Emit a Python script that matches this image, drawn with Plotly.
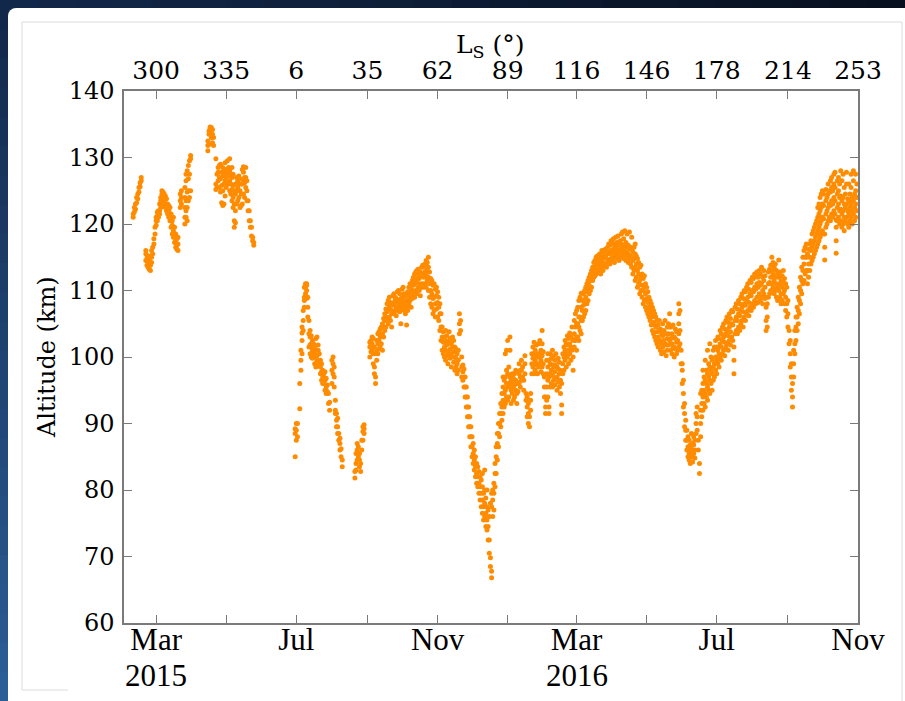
import plotly.graph_objects as go

# ---------------- data ----------------
X_START, X_END = "2015-02-01", "2016-11-01"
Y_MIN, Y_MAX = 60, 140

ls_tick_dates = ["2015-03-01", "2015-05-01", "2015-07-01", "2015-09-01", "2015-11-01",
                 "2016-01-01", "2016-03-01", "2016-05-01", "2016-07-01", "2016-09-01",
                 "2016-11-01"]
ls_labels = ["300", "335", "6", "35", "62", "89", "116", "146", "178", "214", "253"]
month_dates = ["2015-03-01", "2015-07-01", "2015-11-01", "2016-03-01", "2016-07-01",
               "2016-11-01"]
month_labels = ["Mar", "Jul", "Nov", "Mar", "Jul", "Nov"]
minor_month_dates = ["2015-05-01", "2015-09-01", "2016-01-01", "2016-05-01", "2016-09-01"]
year_dates = ["2015-03-01", "2016-03-01"]
year_labels = ["2015", "2016"]

# altitude (km) observed on each day
early_2015 = [
    ("2015-02-09", [121.0, 121.5]), ("2015-02-10", [121.8, 122.5]),
    ("2015-02-11", [122.2, 123.0]), ("2015-02-12", [123.2, 124.0]),
    ("2015-02-13", [123.8, 124.5]), ("2015-02-14", [124.8, 125.5]),
    ("2015-02-15", [125.6, 126.2]), ("2015-02-16", [126.5, 127.0]),
    ("2015-02-20", [114.5, 115.5, 116.0]), ("2015-02-21", [113.8, 114.8, 115.3]),
    ("2015-02-22", [113.5, 114.2, 115.0]), ("2015-02-23", [113.2, 114.0, 114.6]),
    ("2015-02-24", [113.0, 113.8, 115.2]), ("2015-02-25", [114.2, 115.0, 116.0]),
    ("2015-02-26", [115.5, 116.5]), ("2015-02-27", [117.0, 117.8]),
    ("2015-02-28", [118.5, 119.5]), ("2015-03-01", [119.8, 120.5, 121.0]),
    ("2015-03-02", [120.5, 121.2, 121.8]), ("2015-03-03", [121.0, 121.5, 122.0]),
    ("2015-03-04", [122.0, 123.0, 121.5]), ("2015-03-05", [122.5, 123.5, 124.0]),
    ("2015-03-06", [123.8, 124.5, 125.0]), ("2015-03-07", [124.0, 124.8, 123.2]),
    ("2015-03-08", [123.5, 124.5, 122.8]), ("2015-03-09", [122.5, 123.8, 124.2]),
    ("2015-03-10", [122.0, 123.0, 123.8]), ("2015-03-11", [121.5, 122.5, 123.0]),
    ("2015-03-12", [121.0, 122.0, 122.8]), ("2015-03-13", [120.5, 121.5, 122.5]),
    ("2015-03-14", [119.5, 120.8, 121.5]), ("2015-03-15", [118.5, 119.8, 120.5]),
    ("2015-03-16", [118.0, 119.0, 121.0]), ("2015-03-17", [117.2, 118.0, 119.5]),
    ("2015-03-18", [116.5, 117.5, 118.5]), ("2015-03-19", [116.2, 116.8, 117.8]),
    ("2015-03-20", [116.0, 117.0, 118.0]), ("2015-03-22", [122.5, 123.5, 124.5]),
    ("2015-03-23", [123.0, 124.0, 125.0]),
    ("2015-03-26", [120.0, 121.0, 122.5, 124.0, 125.5]),
    ("2015-03-27", [121.0, 122.0, 123.5, 126.5, 127.5]),
    ("2015-03-28", [120.5, 122.5, 124.8, 128.0]),
    ("2015-03-29", [123.5, 125.0, 126.8, 128.8]),
    ("2015-03-30", [124.0, 127.5, 129.5]), ("2015-03-31", [125.0, 129.8, 130.3]),
    ("2015-04-15", [131.0, 131.8, 132.5]), ("2015-04-16", [132.0, 133.5, 134.0]),
    ("2015-04-17", [133.8, 134.4, 134.6]), ("2015-04-18", [134.0, 134.5, 133.0]),
    ("2015-04-19", [133.5, 134.2, 132.2]), ("2015-04-20", [131.8, 133.0]),
    ("2015-04-22", [129.8, 126.0, 125.2]), ("2015-04-23", [127.5, 125.5]),
    ("2015-04-24", [126.5, 127.8, 128.5]), ("2015-04-25", [125.5, 127.0, 128.8]),
    ("2015-04-26", [124.8, 126.8, 129.0]), ("2015-04-27", [123.2, 125.8, 127.8]),
    ("2015-04-28", [122.8, 125.0, 127.2, 128.5]), ("2015-04-29", [123.0, 126.0, 128.0]),
    ("2015-04-30", [124.2, 126.5, 127.5, 129.2]), ("2015-05-01", [125.5, 127.0, 128.2]),
    ("2015-05-02", [126.2, 127.8, 129.5]), ("2015-05-03", [126.0, 127.2, 128.5]),
    ("2015-05-04", [125.0, 126.5, 128.0, 129.8]), ("2015-05-05", [124.5, 126.0, 127.5]),
    ("2015-05-06", [123.5, 125.2, 127.0, 128.5]), ("2015-05-07", [122.5, 124.0, 125.8, 127.5]),
    ("2015-05-08", [119.5, 120.5, 123.0, 125.0]), ("2015-05-09", [120.2, 122.0, 124.5, 126.0]),
    ("2015-05-10", [123.0, 125.0, 127.0]), ("2015-05-11", [123.5, 125.5, 126.5]),
    ("2015-05-12", [124.0, 126.0, 127.2]), ("2015-05-13", [122.5, 125.0, 126.8]),
    ("2015-05-14", [122.8, 124.5, 126.0]), ("2015-05-15", [123.0, 126.0, 128.2]),
    ("2015-05-16", [124.5, 126.5, 127.8, 128.6]), ("2015-05-17", [124.0, 126.2, 127.0]),
    ("2015-05-18", [125.5, 127.0, 128.5]), ("2015-05-19", [123.5, 125.0, 126.5]),
    ("2015-05-20", [122.0, 123.5]), ("2015-05-21", [120.5, 122.0]),
    ("2015-05-22", [119.5, 120.5]), ("2015-05-23", [118.2, 119.5]),
    ("2015-05-24", [117.5, 118.0]), ("2015-05-25", [116.8, 117.2]),
]

mid_2015 = [
    ("2015-06-30", [85.0, 88.5, 89.2]), ("2015-07-01", [87.5, 89.0, 90.0]),
    ("2015-07-02", [88.0, 90.0]), ("2015-07-04", [92.2, 96.0]),
    ("2015-07-05", [98.0, 99.5, 101.0]), ("2015-07-06", [100.5, 102.5, 103.6, 104.5]),
    ("2015-07-07", [104.0, 105.5, 107.0]), ("2015-07-08", [107.5, 108.5, 109.0, 110.5]),
    ("2015-07-09", [109.5, 110.5, 111.0]), ("2015-07-10", [110.8, 111.0, 110.0, 108.8]),
    ("2015-07-11", [109.0, 107.5, 106.0]), ("2015-07-12", [105.5, 103.5, 101.5]),
    ("2015-07-13", [100.5, 101.8, 103.0, 104.0]), ("2015-07-14", [100.0, 101.5, 102.0, 103.2]),
    ("2015-07-15", [99.8, 100.8, 101.2, 102.5]), ("2015-07-16", [100.2, 101.0, 102.0]),
    ("2015-07-17", [99.0, 100.5, 101.5]), ("2015-07-18", [98.5, 100.0, 101.0, 102.8]),
    ("2015-07-19", [99.5, 100.2, 103.0]), ("2015-07-20", [99.0, 101.0, 101.8]),
    ("2015-07-21", [98.8, 100.5]), ("2015-07-22", [97.5, 98.5, 99.5]),
    ("2015-07-23", [96.5, 97.8, 99.0]), ("2015-07-24", [96.0, 97.0, 98.0]),
    ("2015-07-25", [96.5, 97.5, 96.0]), ("2015-07-26", [95.0, 96.5, 97.8]),
    ("2015-07-27", [94.5, 95.5, 96.8]), ("2015-07-28", [94.8, 95.8]),
    ("2015-07-29", [93.0, 94.5]), ("2015-07-30", [92.0, 93.2]),
    ("2015-08-01", [96.0, 98.0, 99.5]), ("2015-08-02", [97.5, 99.0, 100.0]),
    ("2015-08-03", [95.5, 97.0, 98.5]), ("2015-08-04", [92.0, 93.5, 91.5]),
    ("2015-08-05", [90.5, 91.5, 89.5]), ("2015-08-06", [88.5, 89.5, 90.8]),
    ("2015-08-07", [87.5, 88.5]), ("2015-08-08", [86.0, 87.0, 87.8]),
    ("2015-08-09", [85.0, 86.2]), ("2015-08-10", [84.5, 83.5]),
    ("2015-08-21", [81.8, 82.8]), ("2015-08-22", [83.0, 84.0, 85.5]),
    ("2015-08-23", [84.5, 86.0, 87.0]), ("2015-08-24", [85.0, 86.5]),
    ("2015-08-25", [83.5, 84.5, 85.5]), ("2015-08-26", [82.8, 84.0]),
    ("2015-08-27", [86.0, 87.5]), ("2015-08-28", [87.5, 88.8, 89.5]),
    ("2015-08-29", [88.5, 89.8, 89.2]),
]

late_2015 = [
    ("2015-09-03", [100.0, 101.5, 102.2]), ("2015-09-04", [100.8, 101.8, 102.5]),
    ("2015-09-05", [101.0, 102.0, 103.0]), ("2015-09-06", [99.0, 100.5, 102.8]),
    ("2015-09-07", [97.5, 98.5, 101.5]), ("2015-09-08", [96.0, 97.0, 100.5]),
    ("2015-09-09", [99.5, 101.0, 102.5]), ("2015-09-10", [100.5, 102.0, 103.5]),
    ("2015-09-11", [101.2, 102.5, 103.8]), ("2015-09-12", [101.5, 103.0, 104.2]),
    ("2015-09-13", [102.0, 103.2, 104.5]), ("2015-09-14", [101.0, 103.5, 105.0]),
    ("2015-09-15", [103.0, 104.5, 105.8]), ("2015-09-16", [104.0, 105.5, 106.5]),
    ("2015-09-17", [104.5, 106.0, 107.2]), ("2015-09-18", [105.5, 106.8, 108.0]),
    ("2015-09-19", [105.0, 107.0, 108.5]), ("2015-09-20", [106.0, 107.5, 109.0]),
    ("2015-09-21", [105.5, 107.2, 108.2]), ("2015-09-22", [104.5, 106.5, 108.0]),
    ("2015-09-23", [106.8, 108.0, 109.2]), ("2015-09-24", [106.5, 107.8, 109.5]),
    ("2015-09-25", [107.0, 108.5, 109.0]), ("2015-09-26", [106.2, 107.5, 108.8]),
    ("2015-09-27", [107.0, 108.2, 109.8]), ("2015-09-28", [107.5, 108.5, 110.0]),
    ("2015-09-29", [106.8, 108.0, 109.5]), ("2015-09-30", [105.0, 107.5, 108.8]),
    ("2015-10-01", [107.2, 108.5, 110.2]), ("2015-10-02", [107.8, 109.0, 110.5]),
    ("2015-10-03", [107.0, 108.2, 109.5]), ("2015-10-04", [106.5, 108.0, 109.2]),
    ("2015-10-05", [104.8, 107.5, 108.5]), ("2015-10-06", [107.0, 108.5, 109.8]),
    ("2015-10-07", [108.0, 109.2, 110.5]), ("2015-10-08", [108.5, 109.8, 111.0]),
    ("2015-10-09", [107.5, 109.0, 110.2]), ("2015-10-10", [108.8, 110.0, 111.5]),
    ("2015-10-11", [109.5, 110.8, 112.0]), ("2015-10-12", [109.0, 111.0, 112.5]),
    ("2015-10-13", [110.0, 111.5, 112.8]), ("2015-10-14", [109.5, 111.2, 113.0]),
    ("2015-10-15", [110.5, 112.0, 113.2]), ("2015-10-16", [110.0, 111.8, 112.5]),
    ("2015-10-17", [109.2, 111.0, 112.8]), ("2015-10-18", [110.5, 112.2, 113.5]),
    ("2015-10-19", [111.0, 112.5, 113.8]), ("2015-10-20", [110.5, 112.0, 113.5]),
    ("2015-10-21", [111.0, 112.8, 114.0]), ("2015-10-22", [110.5, 112.5, 113.8, 114.5]),
    ("2015-10-23", [111.5, 113.0, 114.2]), ("2015-10-24", [110.0, 112.0, 113.5, 115.0]),
    ("2015-10-25", [109.0, 111.0, 112.8]), ("2015-10-26", [108.0, 110.0, 111.8]),
    ("2015-10-27", [107.5, 109.5, 111.5]), ("2015-10-28", [106.5, 108.8, 110.8]),
    ("2015-10-29", [107.0, 109.0, 111.0]), ("2015-10-30", [106.0, 108.0, 110.2]),
    ("2015-10-31", [107.2, 109.2, 110.5]), ("2015-11-01", [106.0, 108.2, 109.8]),
    ("2015-11-02", [105.5, 107.5, 109.0]), ("2015-11-03", [104.0, 106.5, 108.0]),
    ("2015-11-04", [102.5, 104.5, 106.5]), ("2015-11-05", [101.0, 103.0, 104.5]),
    ("2015-11-06", [100.5, 102.2, 103.8]), ("2015-11-07", [100.0, 101.5, 103.0]),
    ("2015-11-08", [99.5, 101.0, 102.5, 104.0]), ("2015-11-09", [100.2, 101.8, 103.2]),
    ("2015-11-10", [99.0, 100.8, 102.0]), ("2015-11-11", [100.5, 102.2, 103.8]),
    ("2015-11-12", [99.8, 101.2, 102.8]), ("2015-11-13", [98.5, 100.5, 102.0]),
    ("2015-11-14", [100.0, 101.5, 103.0]), ("2015-11-15", [99.2, 100.8, 102.5]),
    ("2015-11-16", [98.0, 100.0, 101.5]), ("2015-11-17", [98.5, 99.8, 101.2]),
    ("2015-11-18", [97.5, 99.0, 100.5]), ("2015-11-19", [98.0, 99.5, 101.0]),
    ("2015-11-20", [103.5, 105.0, 106.5]), ("2015-11-21", [104.0, 105.5]),
    ("2015-11-22", [97.0, 98.5, 100.0]), ("2015-11-23", [96.5, 97.8, 98.8]),
    ("2015-11-24", [95.5, 97.0, 98.2]), ("2015-11-25", [94.0, 95.5, 97.0]),
    ("2015-11-26", [92.5, 94.0, 95.5]), ("2015-11-27", [91.0, 92.5, 94.0]),
    ("2015-11-28", [89.5, 91.0, 92.5]), ("2015-11-29", [88.0, 89.5, 91.0]),
    ("2015-11-30", [86.5, 88.0, 89.5]), ("2015-12-01", [85.0, 86.5, 88.0]),
    ("2015-12-02", [84.0, 85.5, 87.0]), ("2015-12-03", [83.0, 84.5, 86.0]),
    ("2015-12-04", [82.0, 83.5, 85.0]), ("2015-12-05", [81.0, 82.5, 84.0]),
    ("2015-12-06", [80.5, 82.0, 83.5]), ("2015-12-07", [79.5, 81.0, 82.8]),
    ("2015-12-08", [78.5, 80.5, 82.0]), ("2015-12-09", [77.5, 79.5, 81.5]),
    ("2015-12-10", [76.5, 78.5, 80.5, 82.5]), ("2015-12-11", [75.5, 77.5, 79.5]),
    ("2015-12-12", [76.0, 78.0, 80.0, 83.0]), ("2015-12-13", [74.5, 76.5, 78.8]),
    ("2015-12-14", [74.0, 75.5, 77.5, 80.0]), ("2015-12-15", [72.5, 74.5, 77.0]),
    ("2015-12-16", [70.5, 72.5, 76.0]), ("2015-12-17", [68.5, 69.8, 78.0]),
    ("2015-12-18", [66.8, 67.8, 77.5, 79.5]), ("2015-12-19", [76.0, 78.5, 80.0]),
    ("2015-12-20", [77.0, 79.5, 81.0]), ("2015-12-21", [80.5, 82.5, 84.0]),
    ("2015-12-22", [82.5, 85.0, 86.5]), ("2015-12-23", [84.5, 87.0, 88.5]),
    ("2015-12-24", [86.5, 88.5, 90.0]), ("2015-12-25", [88.0, 90.0, 91.5]),
    ("2015-12-26", [89.5, 91.5, 93.0]), ("2015-12-27", [90.5, 92.5, 94.5]),
    ("2015-12-28", [91.5, 93.5, 95.5, 97.0]), ("2015-12-29", [92.5, 94.5, 96.5]),
    ("2015-12-30", [93.0, 95.0, 97.0, 100.5]), ("2015-12-31", [94.0, 96.0, 98.0, 101.0]),
    ("2016-01-01", [93.5, 95.5, 97.5, 102.5]), ("2016-01-02", [94.0, 96.0, 98.5]),
    ("2016-01-03", [95.5, 97.0, 101.0, 103.0]), ("2016-01-04", [93.0, 95.0, 96.5]),
    ("2016-01-05", [94.5, 96.0, 97.5]), ("2016-01-06", [93.5, 95.5, 96.8]),
    ("2016-01-07", [94.0, 95.8, 97.5]), ("2016-01-08", [95.0, 96.5, 98.0]),
    ("2016-01-09", [93.0, 94.5, 96.0]), ("2016-01-10", [94.8, 96.2, 97.8]),
    ("2016-01-11", [96.0, 97.5, 99.0]), ("2016-01-12", [95.5, 97.0, 98.0]),
    ("2016-01-13", [96.5, 98.0, 99.5]), ("2016-01-14", [97.0, 98.5]),
    ("2016-01-15", [95.0, 96.5]), ("2016-01-16", [97.5, 99.0, 100.2]),
    ("2016-01-17", [93.5, 94.5]), ("2016-01-18", [91.0, 92.5, 94.0]),
    ("2016-01-19", [90.0, 91.5, 93.0]), ("2016-01-20", [89.5, 91.0]),
    ("2016-01-21", [92.0, 93.5, 94.5]), ("2016-01-22", [97.5, 99.0, 100.5]),
    ("2016-01-23", [98.5, 99.8, 101.5]), ("2016-01-24", [97.5, 99.0, 100.5, 102.2]),
    ("2016-01-25", [98.0, 99.5, 101.0]), ("2016-01-26", [98.8, 100.2, 101.8]),
    ("2016-01-27", [97.5, 99.0, 100.5]), ("2016-01-28", [98.5, 100.0, 102.0]),
    ("2016-01-29", [99.0, 100.5, 102.5]), ("2016-01-30", [97.8, 99.5, 101.0]),
    ("2016-01-31", [98.5, 100.2, 102.0, 104.0]), ("2016-02-01", [97.5, 99.0, 100.8]),
    ("2016-02-02", [94.0, 95.5, 97.0]), ("2016-02-03", [91.5, 92.5, 94.0]),
    ("2016-02-04", [93.5, 95.5, 97.5, 99.5]),
]

year_2016 = [
    ("2016-02-05", [94.0, 96.5, 98.5, 100.5]), ("2016-02-06", [91.5, 92.5, 97.0, 99.5]),
    ("2016-02-07", [95.5, 97.5, 99.0, 100.5]), ("2016-02-08", [96.0, 98.0, 99.8]),
    ("2016-02-09", [95.5, 97.2, 98.8, 101.0]), ("2016-02-10", [96.5, 98.5, 100.2]),
    ("2016-02-11", [95.8, 97.8, 99.5]), ("2016-02-12", [96.8, 98.8, 100.5]),
    ("2016-02-13", [95.0, 97.0, 98.5]), ("2016-02-14", [96.2, 98.2, 99.8]),
    ("2016-02-15", [95.5, 97.5, 99.2]), ("2016-02-16", [94.5, 96.5, 98.0]),
    ("2016-02-17", [91.5, 92.8, 96.0]), ("2016-02-18", [97.5, 99.0, 100.5]),
    ("2016-02-19", [98.0, 100.0, 101.5]), ("2016-02-20", [99.5, 101.0, 102.5]),
    ("2016-02-21", [98.5, 100.5, 102.0]), ("2016-02-22", [100.0, 101.8, 103.2]),
    ("2016-02-23", [99.0, 101.0, 102.8]), ("2016-02-24", [100.5, 102.0, 103.6]),
    ("2016-02-25", [99.5, 101.5, 103.0]), ("2016-02-26", [101.0, 102.8, 104.5]),
    ("2016-02-27", [98.0, 100.0, 102.5]), ("2016-02-28", [101.5, 103.5, 105.5]),
    ("2016-02-29", [102.5, 104.5, 106.5]), ("2016-03-01", [101.0, 103.0, 105.0, 107.0]),
    ("2016-03-02", [103.0, 105.0, 107.5]), ("2016-03-03", [102.5, 104.5, 106.0, 108.5]),
    ("2016-03-04", [104.0, 106.0, 109.0]), ("2016-03-05", [103.5, 105.5, 107.5, 109.6]),
    ("2016-03-06", [105.5, 107.0, 108.5]), ("2016-03-07", [106.0, 107.8, 109.5]),
    ("2016-03-08", [106.5, 108.5, 110.0]), ("2016-03-09", [107.0, 109.0, 110.5]),
    ("2016-03-10", [108.0, 109.8, 111.0]), ("2016-03-11", [108.5, 110.2, 111.5]),
    ("2016-03-12", [109.5, 110.8, 112.0]), ("2016-03-13", [110.0, 111.5, 112.5]),
    ("2016-03-14", [110.5, 112.0, 113.0]), ("2016-03-15", [111.5, 112.5, 113.5]),
    ("2016-03-16", [112.0, 113.0, 114.2]), ("2016-03-17", [112.2, 113.5, 114.5]),
    ("2016-03-18", [112.5, 113.8, 115.0]), ("2016-03-19", [113.0, 114.0, 115.2]),
    ("2016-03-20", [112.8, 113.8, 114.8]), ("2016-03-21", [113.2, 114.5, 115.5]),
    ("2016-03-22", [112.5, 114.0, 115.0]), ("2016-03-23", [113.5, 114.8, 116.0]),
    ("2016-03-24", [113.0, 114.2, 115.5]), ("2016-03-25", [113.8, 115.0, 116.0]),
    ("2016-03-26", [114.0, 115.2, 116.2]), ("2016-03-27", [113.5, 114.8, 115.8]),
    ("2016-03-28", [114.2, 115.5, 116.5]), ("2016-03-29", [114.5, 115.8, 117.0]),
    ("2016-03-30", [114.0, 115.5, 116.8]), ("2016-03-31", [114.8, 116.0, 117.5]),
    ("2016-04-01", [114.5, 115.8, 117.2]), ("2016-04-02", [115.0, 116.2, 117.8]),
    ("2016-04-03", [114.2, 115.5, 116.8]), ("2016-04-04", [115.2, 116.5, 118.0]),
    ("2016-04-05", [114.8, 116.0, 117.2]), ("2016-04-06", [115.5, 116.8, 118.2]),
    ("2016-04-07", [114.5, 115.8, 117.0]), ("2016-04-08", [115.0, 116.2, 117.5]),
    ("2016-04-09", [115.8, 117.0, 118.5]), ("2016-04-10", [115.2, 116.5, 118.8]),
    ("2016-04-11", [114.8, 116.0, 117.8]), ("2016-04-12", [115.5, 116.8, 119.0]),
    ("2016-04-13", [114.5, 115.8, 117.2]), ("2016-04-14", [115.0, 116.5, 118.5]),
    ("2016-04-15", [114.2, 115.5, 116.8]), ("2016-04-16", [114.8, 116.2, 118.8]),
    ("2016-04-17", [114.0, 115.2, 116.5]), ("2016-04-18", [113.5, 115.0, 116.2, 118.0]),
    ("2016-04-19", [112.5, 114.5, 115.8]), ("2016-04-20", [113.0, 114.8, 116.5]),
    ("2016-04-21", [111.5, 113.5, 115.5, 117.0]), ("2016-04-22", [112.0, 114.0, 115.2]),
    ("2016-04-23", [110.5, 113.0, 114.8]), ("2016-04-24", [111.0, 112.5, 114.2]),
    ("2016-04-25", [109.5, 111.5, 113.5]), ("2016-04-26", [110.0, 112.0, 113.8]),
    ("2016-04-27", [109.0, 110.8, 112.5]), ("2016-04-28", [108.0, 110.0, 111.8]),
    ("2016-04-29", [108.5, 110.5, 112.2]), ("2016-04-30", [107.5, 109.5, 111.0]),
    ("2016-05-01", [107.0, 108.8, 110.5]), ("2016-05-02", [106.5, 108.2, 109.8]),
    ("2016-05-03", [106.0, 107.5, 109.0]), ("2016-05-04", [105.5, 107.0, 108.5]),
    ("2016-05-05", [104.8, 106.5, 108.0]), ("2016-05-06", [104.0, 106.0, 107.5]),
    ("2016-05-07", [103.5, 105.2, 107.0]), ("2016-05-08", [103.0, 104.8, 106.5]),
    ("2016-05-09", [102.5, 104.5, 106.0]), ("2016-05-10", [102.0, 103.8, 105.5]),
    ("2016-05-11", [101.5, 103.0, 104.8]), ("2016-05-12", [102.2, 104.0, 105.5]),
    ("2016-05-13", [101.0, 102.5, 104.2]), ("2016-05-14", [100.5, 102.0, 103.5]),
    ("2016-05-15", [101.5, 103.2, 105.0]), ("2016-05-16", [100.8, 102.5, 104.0]),
    ("2016-05-17", [102.0, 103.5, 105.5]), ("2016-05-18", [100.2, 101.8, 103.5]),
    ("2016-05-19", [101.0, 102.8, 104.5]), ("2016-05-20", [101.8, 103.5, 105.0]),
    ("2016-05-21", [102.5, 104.5, 106.5]), ("2016-05-22", [101.0, 102.8, 104.5]),
    ("2016-05-23", [100.5, 102.0, 103.5]), ("2016-05-24", [101.5, 103.0, 104.8]),
    ("2016-05-25", [100.0, 101.5, 103.0]), ("2016-05-26", [101.2, 102.8, 104.2]),
    ("2016-05-27", [100.5, 102.2, 103.8]), ("2016-05-28", [101.0, 102.5]),
    ("2016-05-29", [101.5, 103.5, 105.0, 106.5, 108.0]), ("2016-05-30", [102.0, 104.0, 107.0]),
    ("2016-05-31", [99.0, 101.0]), ("2016-06-01", [96.0, 98.0, 99.0]),
    ("2016-06-02", [92.5, 94.5, 96.5]), ("2016-06-03", [89.5, 91.5, 93.0]),
    ("2016-06-04", [87.5, 89.0, 90.5]), ("2016-06-05", [86.0, 87.5, 89.0]),
    ("2016-06-06", [85.0, 86.5, 88.0]), ("2016-06-07", [84.5, 85.5, 87.5]),
    ("2016-06-08", [84.0, 85.8, 86.8]), ("2016-06-09", [85.0, 86.2, 88.5]),
    ("2016-06-10", [84.2, 85.0, 87.0]), ("2016-06-11", [85.5, 86.8, 88.0]),
    ("2016-06-12", [84.8, 86.0, 87.5]), ("2016-06-13", [88.5, 90.0, 91.5]),
    ("2016-06-14", [89.0, 91.0, 92.5]), ("2016-06-15", [86.0, 87.5]),
    ("2016-06-16", [82.5, 84.0]), ("2016-06-17", [88.0, 90.0, 92.0, 94.5]),
    ("2016-06-18", [91.0, 93.0, 95.0]), ("2016-06-19", [92.0, 94.0, 96.0, 98.0]),
    ("2016-06-20", [93.0, 95.0, 97.0]), ("2016-06-21", [92.5, 94.5, 96.5, 99.5]),
    ("2016-06-22", [94.0, 96.0, 98.0]), ("2016-06-23", [93.5, 95.5, 97.5, 101.0]),
    ("2016-06-24", [95.0, 97.0, 99.0]), ("2016-06-25", [94.5, 96.5, 98.5, 102.0]),
    ("2016-06-26", [96.0, 98.0, 100.0]), ("2016-06-27", [95.0, 97.5, 99.5]),
    ("2016-06-28", [96.5, 98.5, 101.0]), ("2016-06-29", [97.0, 99.0, 101.5]),
    ("2016-06-30", [98.0, 100.0, 102.5]), ("2016-07-01", [97.5, 99.5, 101.5]),
    ("2016-07-02", [99.0, 101.0, 103.0]), ("2016-07-03", [98.5, 100.5, 102.8]),
    ("2016-07-04", [100.0, 102.0, 104.0]), ("2016-07-05", [99.5, 101.5, 103.5]),
    ("2016-07-06", [100.5, 102.5, 104.5]), ("2016-07-07", [101.0, 103.0, 105.0]),
    ("2016-07-08", [100.2, 102.2, 104.2]), ("2016-07-09", [101.5, 103.5, 105.5]),
    ("2016-07-10", [102.0, 104.0, 106.0]), ("2016-07-11", [101.0, 103.2, 105.2]),
    ("2016-07-12", [102.5, 104.5, 106.5]), ("2016-07-13", [101.8, 103.8, 105.8]),
    ("2016-07-14", [103.0, 105.0, 107.0]), ("2016-07-15", [102.5, 104.8, 106.8]),
    ("2016-07-16", [97.5, 99.5, 101.5]), ("2016-07-17", [103.5, 105.5, 107.5]),
    ("2016-07-18", [104.0, 106.0, 108.0]), ("2016-07-19", [103.5, 105.5, 107.2]),
    ("2016-07-20", [104.5, 106.5, 108.5]), ("2016-07-21", [104.0, 106.2, 108.0]),
    ("2016-07-22", [105.0, 107.0, 109.0]), ("2016-07-23", [105.5, 107.5, 109.5]),
    ("2016-07-24", [104.5, 106.8, 108.8]), ("2016-07-25", [106.0, 108.0, 110.0]),
    ("2016-07-26", [105.5, 107.8, 109.8]), ("2016-07-27", [106.5, 108.5, 110.5]),
    ("2016-07-28", [107.0, 109.0, 111.0]), ("2016-07-29", [106.2, 108.2, 110.2]),
    ("2016-07-30", [107.5, 109.5, 111.5]), ("2016-07-31", [107.0, 109.2, 111.2]),
    ("2016-08-01", [108.0, 110.0, 112.0]), ("2016-08-02", [107.5, 109.8, 111.8]),
    ("2016-08-03", [108.5, 110.5, 112.5]), ("2016-08-04", [108.0, 110.2, 112.2]),
    ("2016-08-05", [109.0, 111.0, 112.8]), ("2016-08-06", [108.2, 110.5, 112.0]),
    ("2016-08-07", [109.5, 111.2, 113.0]), ("2016-08-08", [108.5, 110.8, 112.5]),
    ("2016-08-09", [109.0, 111.0, 113.5]), ("2016-08-10", [108.0, 110.0, 112.0]),
    ("2016-08-11", [109.5, 111.5, 113.0]), ("2016-08-12", [108.8, 110.5, 112.2]),
    ("2016-08-13", [104.0, 105.5, 107.5, 109.0]), ("2016-08-14", [104.5, 106.0, 108.0]),
    ("2016-08-15", [109.0, 111.0, 112.8]), ("2016-08-16", [109.5, 111.2, 113.2]),
    ("2016-08-17", [110.0, 112.0, 113.8]), ("2016-08-18", [111.0, 113.0, 115.0]),
    ("2016-08-19", [110.5, 112.5, 114.2]), ("2016-08-20", [109.5, 111.5, 113.5]),
    ("2016-08-21", [110.0, 112.0, 114.0]), ("2016-08-22", [109.0, 111.0, 113.0]),
    ("2016-08-23", [108.5, 110.5, 112.5]), ("2016-08-24", [110.0, 112.0, 114.6]),
    ("2016-08-25", [109.0, 111.0, 112.8]), ("2016-08-26", [108.0, 109.5, 111.5]),
    ("2016-08-27", [108.5, 110.5, 112.2]), ("2016-08-28", [109.5, 111.2, 113.0]),
    ("2016-08-29", [108.0, 110.0, 111.8]), ("2016-08-30", [107.0, 109.0, 111.0]),
    ("2016-08-31", [106.0, 108.0, 110.5]), ("2016-09-01", [104.5, 106.5, 108.5]),
    ("2016-09-02", [102.0, 104.0]), ("2016-09-03", [98.5, 100.5, 102.5]),
    ("2016-09-04", [95.0, 97.0, 99.0]), ("2016-09-05", [92.5, 94.0, 96.0]),
    ("2016-09-06", [97.0, 99.0, 101.0]), ("2016-09-07", [100.5, 102.0, 104.0]),
    ("2016-09-08", [102.5, 104.5, 106.0]), ("2016-09-09", [104.0, 106.0, 107.5]),
    ("2016-09-10", [105.0, 107.0, 109.0]), ("2016-09-11", [106.5, 108.5, 110.5]),
    ("2016-09-12", [108.0, 110.0, 112.0]), ("2016-09-13", [109.5, 111.5, 113.5]),
    ("2016-09-14", [111.0, 113.0, 115.0]), ("2016-09-15", [111.5, 114.0, 116.0]),
    ("2016-09-16", [112.5, 115.0, 116.5]), ("2016-09-17", [113.0, 115.0, 117.0]),
    ("2016-09-18", [111.0, 113.0, 115.5]), ("2016-09-19", [112.0, 114.0, 116.2]),
    ("2016-09-20", [113.0, 115.0, 117.0]), ("2016-09-21", [114.0, 116.0, 117.5]),
    ("2016-09-22", [114.5, 116.5, 118.5]), ("2016-09-23", [115.0, 117.0, 119.0]),
    ("2016-09-24", [115.5, 117.5, 119.5]), ("2016-09-25", [116.0, 118.0, 120.0]),
    ("2016-09-26", [116.5, 118.5, 120.5]), ("2016-09-27", [117.0, 119.0, 121.0, 122.5]),
    ("2016-09-28", [117.5, 119.5, 121.5, 123.0]), ("2016-09-29", [118.0, 120.0, 122.0, 124.0]),
    ("2016-09-30", [118.5, 120.5, 122.5, 124.5]), ("2016-10-01", [119.0, 121.0, 123.0, 125.0]),
    ("2016-10-02", [118.5, 120.8, 122.8, 124.5]), ("2016-10-03", [114.6, 116.5, 118.5]),
    ("2016-10-04", [119.5, 121.5, 123.5, 125.2]), ("2016-10-05", [120.0, 122.0, 124.0]),
    ("2016-10-06", [120.5, 122.5, 124.5, 126.0]), ("2016-10-07", [121.0, 123.0, 125.0]),
    ("2016-10-08", [120.5, 122.8, 124.8, 126.5]), ("2016-10-09", [121.5, 123.5, 125.5, 127.0]),
    ("2016-10-10", [121.0, 123.0, 125.0]), ("2016-10-11", [122.0, 124.0, 126.0, 127.5]),
    ("2016-10-12", [121.5, 123.5, 125.5, 127.8]), ("2016-10-13", [115.6, 117.5, 119.5, 120.6]),
    ("2016-10-14", [120.5, 122.5, 124.5, 126.5]), ("2016-10-15", [121.0, 123.0, 125.0, 127.0]),
    ("2016-10-16", [120.0, 122.0, 124.0, 126.0]), ("2016-10-17", [120.5, 122.2, 124.2, 128.0]),
    ("2016-10-18", [119.5, 121.5, 123.5, 126.5]), ("2016-10-19", [120.0, 122.0, 124.0, 127.5]),
    ("2016-10-20", [119.0, 121.0, 123.0, 125.5]), ("2016-10-21", [120.5, 122.5, 124.5]),
    ("2016-10-22", [121.0, 123.0, 126.0, 127.8]), ("2016-10-23", [120.0, 122.0, 123.8]),
    ("2016-10-24", [119.5, 121.5, 123.5, 126.0]), ("2016-10-25", [120.5, 122.5, 124.5]),
    ("2016-10-26", [121.0, 123.0, 125.5, 127.5]), ("2016-10-27", [120.0, 122.0, 124.0]),
    ("2016-10-28", [121.5, 123.5, 126.5, 128.0]), ("2016-10-29", [120.5, 122.5, 124.5]),
    ("2016-10-30", [121.0, 123.0, 125.0, 127.5]), ("2016-10-31", [122.0, 124.0, 126.0]),
]

# ---------------- flatten ----------------
obs_dates, obs_alt = [], []
for segment in (early_2015, mid_2015, late_2015, year_2016):
    for day, values in segment:
        for v in values:
            obs_dates.append(day)
            obs_alt.append(v)

# ---------------- figure geometry ----------------
W, H = 905, 701
ML, MR, MT, MB = 124, 47, 91, 78
PW, PH = W - ML - MR, H - MT - MB


def fx(px):
    return (px - ML) / PW


def fy(py):
    return (H - MB - py) / PH


AXIS_COLOR = "#7a7a7a"
ORANGE = "#ff8c00"
SERIF_Y = "DejaVu Serif"
SERIF_X = "Liberation Serif"

fig = go.Figure()
fig.add_trace(go.Scatter(
    x=obs_dates, y=obs_alt, mode="markers",
    marker=dict(color=ORANGE, size=5, line=dict(width=0)),
    showlegend=False, hoverinfo="skip",
))
fig.add_trace(go.Scatter(x=[X_START, X_END], y=[None, None], xaxis="x2",
                         mode="markers", showlegend=False, hoverinfo="skip"))

# ---------------- background frame (slide border) ----------------
shapes = []


def lerp(c1, c2, t):
    a = [int(c1[i:i + 2], 16) for i in (1, 3, 5)]
    b = [int(c2[i:i + 2], 16) for i in (1, 3, 5)]
    return "#%02x%02x%02x" % tuple(round(a[k] + (b[k] - a[k]) * t) for k in range(3))


N = 24
for i in range(N):
    y0 = H * i / N
    y1 = H * (i + 1) / N + 1
    shapes.append(dict(type="rect", xref="paper", yref="paper", layer="below",
                       x0=fx(-2), x1=fx(8), y0=fy(y0), y1=fy(y1),
                       fillcolor=lerp("#12284a", "#2b5d96", i / (N - 1)),
                       line=dict(width=0)))
for i in range(N):
    x0 = W * i / N
    x1 = W * (i + 1) / N + 1
    shapes.append(dict(type="rect", xref="paper", yref="paper", layer="below",
                       x0=fx(x0), x1=fx(x1), y0=fy(-2), y1=fy(8),
                       fillcolor=lerp("#12284a", "#07101e", i / (N - 1)),
                       line=dict(width=0)))
# rounded corner of the white card
shapes.append(dict(type="rect", xref="paper", yref="paper", layer="below",
                   x0=fx(7), x1=fx(16), y0=fy(7), y1=fy(16),
                   fillcolor="#13294b", line=dict(width=0)))
shapes.append(dict(type="circle", xref="paper", yref="paper", layer="below",
                   x0=fx(8), x1=fx(24), y0=fy(8), y1=fy(24),
                   fillcolor="white", line=dict(width=0)))
# thin light border of the chart image
for (x0, y0, x1, y1) in [(22, 22, 902, 22), (22, 22, 22, 690), (902, 22, 902, 701), (22, 690, 68, 690)]:
    shapes.append(dict(type="line", xref="paper", yref="paper", layer="below",
                       x0=fx(x0), x1=fx(x1), y0=fy(y0), y1=fy(y1),
                       line=dict(color="#dcdcdc", width=1)))

# ---------------- annotations ----------------
annotations = [
    dict(text="L<sub>S</sub> (°)", xref="paper", yref="paper", x=fx(490), y=fy(46),
         showarrow=False, xanchor="center", yanchor="middle",
         font=dict(family=SERIF_Y, size=25, color="black")),
    dict(text="Altitude (km)", xref="paper", yref="paper", x=fx(47), y=fy(357),
         textangle=-90, showarrow=False, xanchor="center", yanchor="middle",
         font=dict(family=SERIF_Y, size=24, color="black")),
]
for d, lab in zip(year_dates, year_labels):
    annotations.append(dict(text=lab, xref="x", yref="paper", x=d, y=fy(675),
                            showarrow=False, xanchor="center", yanchor="middle",
                            font=dict(family=SERIF_X, size=31, color="black")))

common_x = dict(type="date", range=[X_START, X_END], tickmode="array",
                ticks="inside", ticklen=8, tickwidth=1,
                tickcolor=AXIS_COLOR, showline=True, linecolor=AXIS_COLOR,
                linewidth=1.6, showgrid=False, zeroline=False, automargin=False,
                fixedrange=True)

fig.update_layout(
    width=W, height=H,
    margin=dict(l=ML, r=MR, t=MT, b=MB, pad=0),
    paper_bgcolor="white", plot_bgcolor="white",
    showlegend=False,
    xaxis=dict(**common_x, tickvals=month_dates, ticktext=month_labels, side="bottom",
               tickfont=dict(family=SERIF_X, size=31, color="black"),
               ticklabelstandoff=-12,
               minor=dict(tickmode="array", tickvals=minor_month_dates, ticks="inside",
                          ticklen=8, tickwidth=1, tickcolor=AXIS_COLOR, showgrid=False)),
    xaxis2=dict(**common_x, tickvals=ls_tick_dates, ticktext=ls_labels, side="top",
                overlaying="x", anchor="y",
                tickfont=dict(family=SERIF_Y, size=25, color="black"),
                ticklabelstandoff=0),
    yaxis=dict(range=[Y_MIN, Y_MAX], tickmode="array",
               tickvals=list(range(Y_MIN, Y_MAX + 1, 10)),
               ticks="inside", ticklen=8, tickwidth=1, tickcolor=AXIS_COLOR,
               showline=True, linecolor=AXIS_COLOR, linewidth=1.6, mirror="ticks",
               showgrid=False, zeroline=False, automargin=False, fixedrange=True,
               tickfont=dict(family=SERIF_Y, size=24, color="black"),
               ticklabelstandoff=3),
    shapes=shapes,
    annotations=annotations,
)

fig.write_html(
    "out.html",
    config={"displayModeBar": False, "staticPlot": True},
    post_script="document.body.style.margin='0';document.body.style.padding='0';"
                "document.body.style.overflow='hidden';",
)
